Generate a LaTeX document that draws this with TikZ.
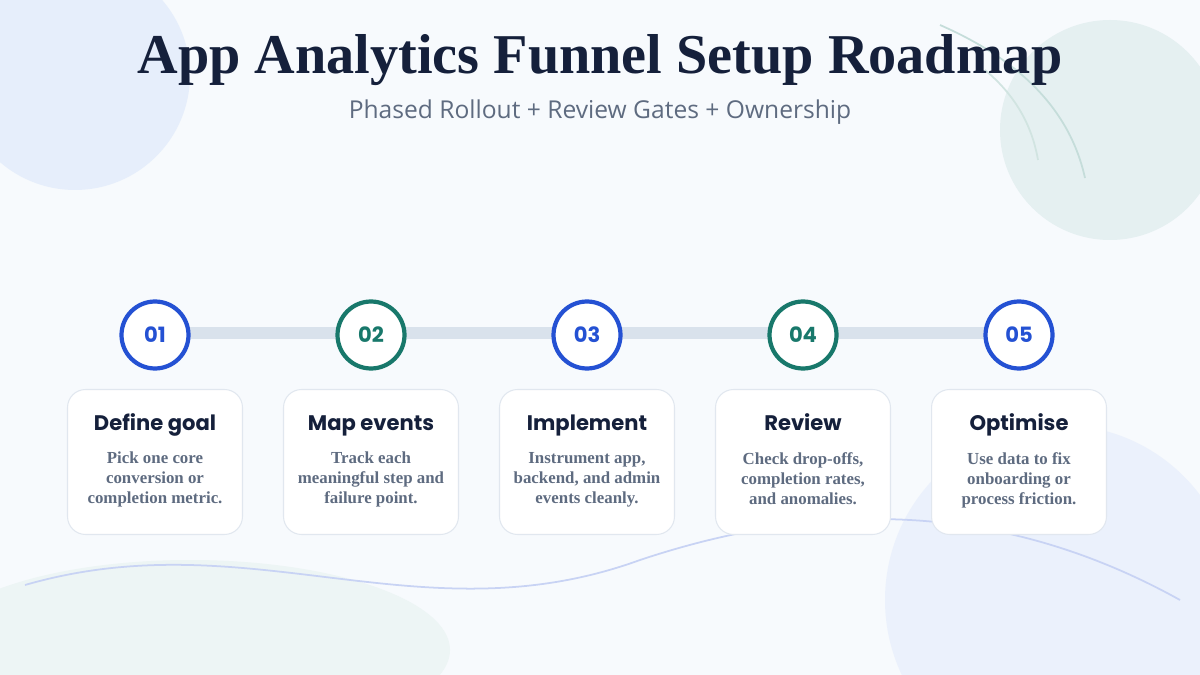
\documentclass[tikz,border=0pt]{standalone}
\usepackage{fontspec}
\setmainfont{Liberation Serif}
\newfontfamily\headfont{Poppins}
\newfontfamily\subfont{Open Sans}
\usetikzlibrary{positioning}
\definecolor{bgA}{HTML}{F7FAFD}
\definecolor{navy}{HTML}{15203B}
\definecolor{slate}{HTML}{5E6B80}
\definecolor{stepblue}{HTML}{2451D3}
\definecolor{stepteal}{HTML}{18786B}
\definecolor{rail}{HTML}{D9E2EC}
\definecolor{cardline}{HTML}{E1E7EF}
\definecolor{blobblue}{HTML}{E6EEFB}
\definecolor{blobteal}{HTML}{E5F0F1}
\tikzset{
  stepnum/.style={circle,draw=#1,line width=2.4pt,fill=white,minimum size=1.34cm,inner sep=0pt,
    font=\headfont\bfseries\fontsize{12}{12}\selectfont,text=#1},
  card/.style={rectangle,rounded corners=0.36cm,draw=cardline,line width=0.6pt,fill=white,
    minimum width=3.5cm,minimum height=2.9cm},
  cardtitle/.style={font=\headfont\bfseries\fontsize{12}{14}\selectfont,text=navy,anchor=base},
  cardtext/.style={font=\bfseries\fontsize{9.6}{11.4}\selectfont,text=slate,align=center,anchor=north},
}
\begin{document}
\begin{tikzpicture}[x=0.02cm,y=-0.02cm]
\useasboundingbox (0,0) rectangle (1200,675);
\fill[bgA] (0,0) rectangle (1200,675);
% background shapes
\begin{scope}
\clip (0,0) rectangle (1200,675);
\fill[blobblue] (75,75) circle (115);
\fill[blobteal] (1110,130) circle (110);
\fill[blobblue!80] (1060,600) circle (175);
\fill[blobteal!70] (190,650) ellipse (260 and 90);
\draw[stepteal!25,line width=1pt] (940,25) .. controls (1020,60) and (1070,110) .. (1085,178);
\draw[stepteal!20,line width=1pt] (985,70) .. controls (1015,95) and (1032,125) .. (1038,160);
\draw[stepblue!25,line width=1pt] (25,585) .. controls (250,520) and (420,640) .. (640,560)
  .. controls (820,500) and (1000,500) .. (1180,600);
\end{scope}
% heading
\node[font=\bfseries\fontsize{32}{38}\selectfont,text=navy,anchor=base] (title) at (600,74) {App Analytics Funnel Setup Roadmap};
\node[font=\subfont\fontsize{14}{16}\selectfont,text=slate,anchor=base] (subtitle) at (600,119) {Phased Rollout + Review Gates + Ownership};
% rail
\coordinate (railL) at (155,333);
\coordinate (railR) at (1019,333);
\draw[rail,line width=7pt] (railL) -- (railR);
% steps
\foreach \i/\x/\c/\t/\a/\b/\d in {
  1/155/stepblue/{Define goal}/{Pick one core}/{conversion or}/{completion metric.},
  2/371/stepteal/{Map events}/{Track each}/{meaningful step and}/{failure point.},
  3/587/stepblue/{Implement}/{Instrument app,}/{backend, and admin}/{events cleanly.},
  4/803/stepteal/{Review}/{Check drop-offs,}/{completion rates,}/{and anomalies.},
  5/1019/stepblue/{Optimise}/{Use data to fix}/{onboarding or}/{process friction.}}{
  \node[stepnum=\c] (n\i) at (\x,335) {0\i};
  \node[card] (c\i) at (\x,462) {};
  \node[cardtitle] (t\i) at (\x,430) {\t};
  \node[cardtext] (d\i) at (\x,446) {\a\\\b\\\d};
}
\end{tikzpicture}
\end{document}
